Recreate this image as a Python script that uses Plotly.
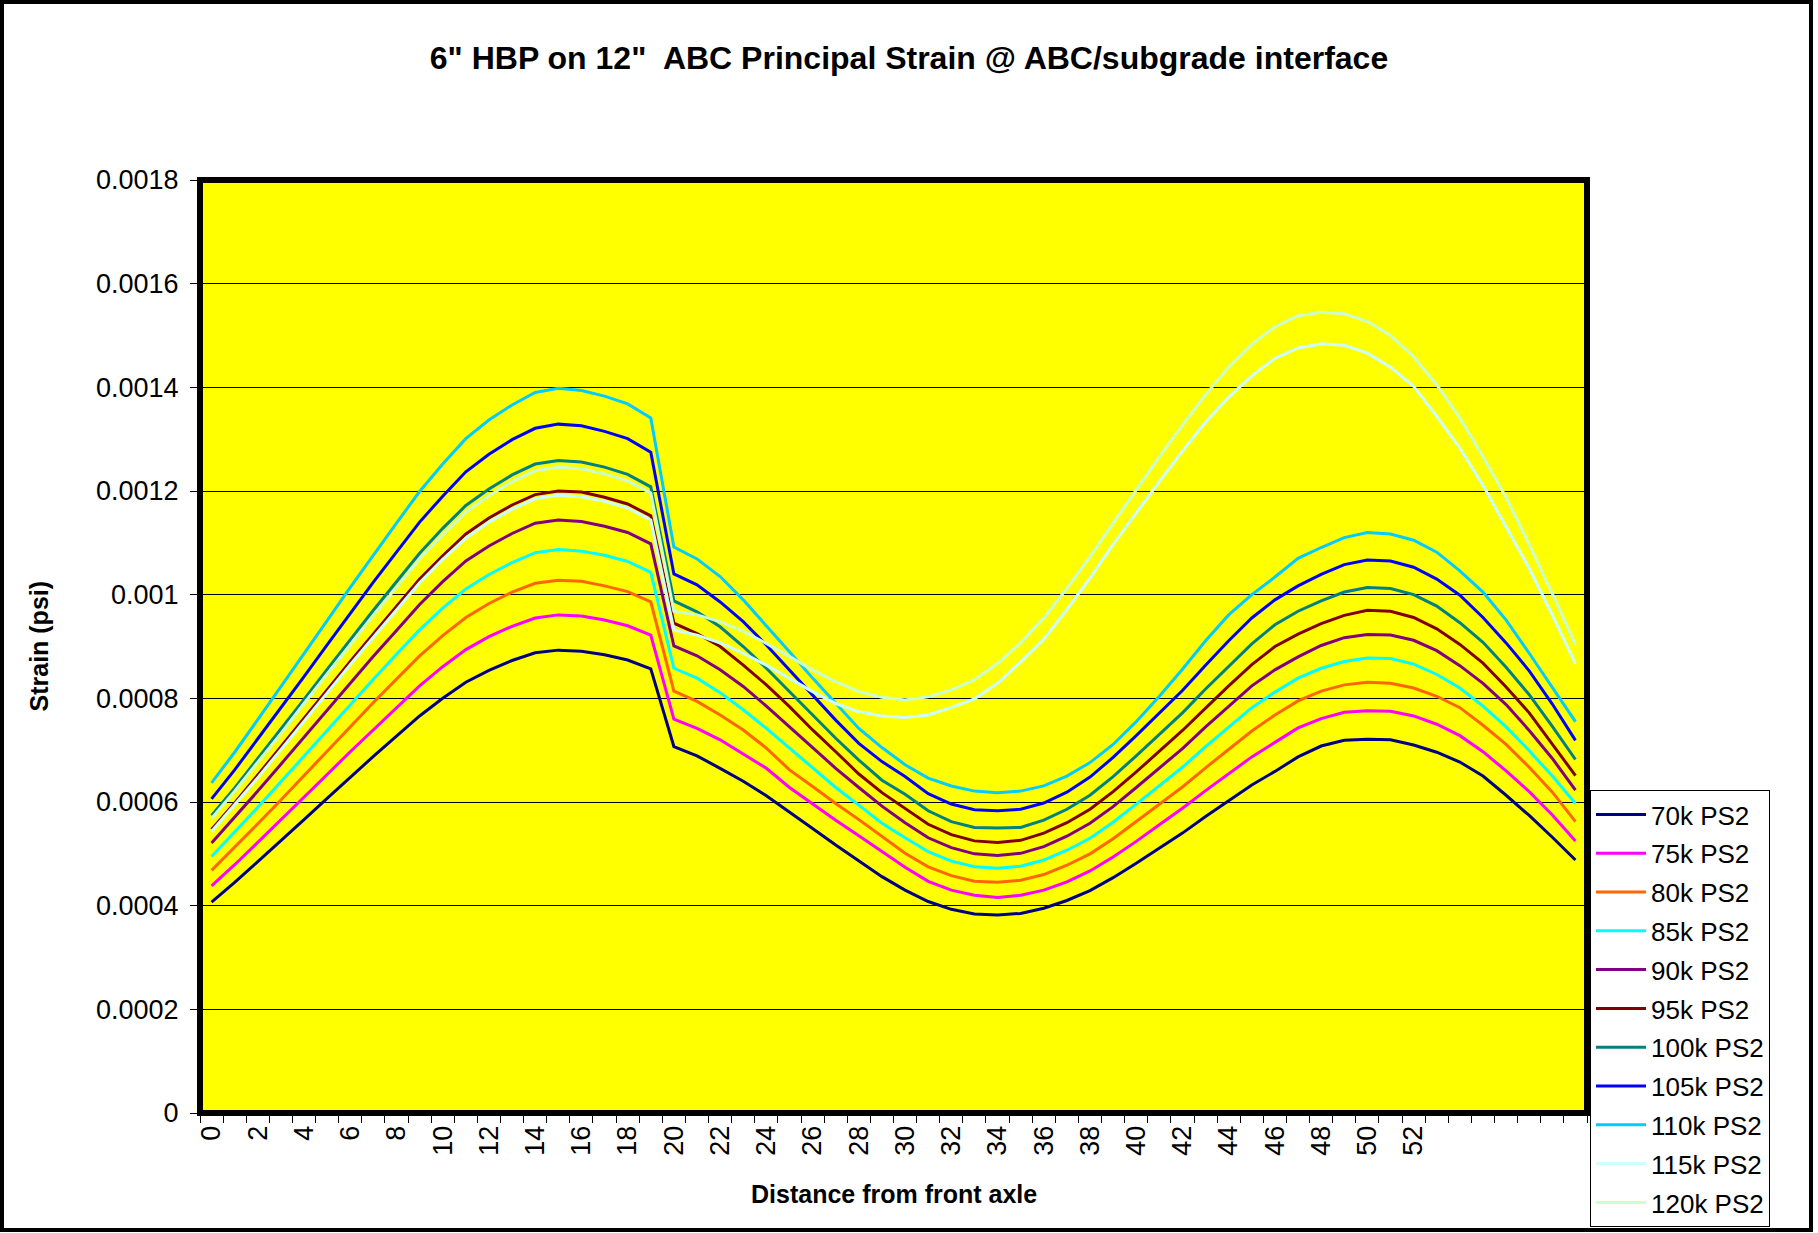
import plotly.graph_objects as go

# ---------------- data ----------------
distance = [0, 1, 2, 3, 4, 5, 6, 7, 8, 9, 10, 11, 12, 13, 14, 15, 16, 17, 18, 19,
            20, 21, 22, 23, 24, 25, 26, 27, 28, 29, 30, 31, 32, 33, 34, 35, 36, 37, 38, 39,
            40, 41, 42, 43, 44, 45, 46, 47, 48, 49, 50, 51, 52, 53, 54, 55, 56, 57, 58, 59]

x_tick_values = [0, 2, 4, 6, 8, 10, 12, 14, 16, 18, 20, 22, 24, 26, 28, 30, 32, 34, 36, 38,
                 40, 42, 44, 46, 48, 50, 52]
x_tick_labels = ["0", "2", "4", "6", "8", "10", "12", "14", "16", "18", "20", "22", "24", "26",
                 "28", "30", "32", "34", "36", "38", "40", "42", "44", "46", "48", "50", "52"]

y_tick_values = [0, 0.0002, 0.0004, 0.0006, 0.0008, 0.001, 0.0012, 0.0014, 0.0016, 0.0018]
y_tick_labels = ["0", "0.0002", "0.0004", "0.0006", "0.0008", "0.001", "0.0012", "0.0014",
                 "0.0016", "0.0018"]

s70k = [407e-6, 445e-6, 485e-6, 525e-6, 566e-6, 607e-6, 648e-6, 688e-6, 727e-6, 766e-6,
        800e-6, 831e-6, 854e-6, 873e-6, 888e-6, 893e-6, 891e-6, 884e-6, 874e-6, 857e-6,
        707e-6, 689e-6, 665e-6, 640e-6, 612e-6, 581e-6, 549e-6, 517e-6, 487e-6, 456e-6,
        430e-6, 408e-6, 393e-6, 384e-6, 382e-6, 385e-6, 395e-6, 410e-6, 429e-6, 454e-6,
        482e-6, 511e-6, 540e-6, 572e-6, 603e-6, 633e-6, 659e-6, 687e-6, 708e-6, 719e-6,
        721e-6, 720e-6, 710e-6, 696e-6, 677e-6, 650e-6, 613e-6, 574e-6, 532e-6, 488e-6]

s75k = [438e-6, 479e-6, 522e-6, 565e-6, 609e-6, 653e-6, 697e-6, 740e-6, 782e-6, 824e-6,
        861e-6, 894e-6, 919e-6, 939e-6, 955e-6, 961e-6, 959e-6, 951e-6, 940e-6, 922e-6,
        760e-6, 742e-6, 720e-6, 693e-6, 665e-6, 628e-6, 596e-6, 565e-6, 535e-6, 505e-6,
        474e-6, 447e-6, 430e-6, 420e-6, 416e-6, 420e-6, 430e-6, 446e-6, 467e-6, 494e-6,
        524e-6, 556e-6, 588e-6, 622e-6, 655e-6, 687e-6, 715e-6, 743e-6, 761e-6, 773e-6,
        776e-6, 775e-6, 766e-6, 750e-6, 728e-6, 697e-6, 660e-6, 620e-6, 575e-6, 525e-6]

s80k = [468e-6, 512e-6, 558e-6, 604e-6, 651e-6, 699e-6, 746e-6, 792e-6, 837e-6, 882e-6,
        921e-6, 956e-6, 983e-6, 1005e-6, 1022e-6, 1028e-6, 1026e-6, 1017e-6, 1006e-6, 986e-6,
        814e-6, 794e-6, 768e-6, 739e-6, 704e-6, 662e-6, 630e-6, 597e-6, 566e-6, 533e-6,
        501e-6, 475e-6, 458e-6, 447e-6, 445e-6, 449e-6, 460e-6, 478e-6, 500e-6, 529e-6,
        562e-6, 595e-6, 629e-6, 666e-6, 702e-6, 737e-6, 768e-6, 795e-6, 814e-6, 826e-6,
        831e-6, 829e-6, 820e-6, 804e-6, 782e-6, 748e-6, 711e-6, 667e-6, 619e-6, 562e-6]

s85k = [495e-6, 542e-6, 590e-6, 639e-6, 689e-6, 739e-6, 789e-6, 837e-6, 885e-6, 932e-6,
        974e-6, 1011e-6, 1039e-6, 1062e-6, 1081e-6, 1087e-6, 1084e-6, 1076e-6, 1064e-6, 1043e-6,
        858e-6, 839e-6, 811e-6, 778e-6, 742e-6, 704e-6, 665e-6, 628e-6, 594e-6, 559e-6,
        531e-6, 504e-6, 486e-6, 475e-6, 472e-6, 476e-6, 488e-6, 507e-6, 530e-6, 561e-6,
        596e-6, 632e-6, 667e-6, 707e-6, 745e-6, 782e-6, 812e-6, 839e-6, 858e-6, 871e-6,
        878e-6, 877e-6, 866e-6, 846e-6, 820e-6, 785e-6, 745e-6, 699e-6, 650e-6, 597e-6]

s90k = [521e-6, 570e-6, 621e-6, 673e-6, 725e-6, 778e-6, 830e-6, 881e-6, 931e-6, 981e-6,
        1025e-6, 1065e-6, 1094e-6, 1118e-6, 1138e-6, 1144e-6, 1141e-6, 1132e-6, 1120e-6, 1098e-6,
        901e-6, 882e-6, 855e-6, 823e-6, 785e-6, 745e-6, 704e-6, 665e-6, 628e-6, 592e-6,
        560e-6, 531e-6, 512e-6, 500e-6, 497e-6, 501e-6, 514e-6, 534e-6, 559e-6, 591e-6,
        628e-6, 665e-6, 703e-6, 745e-6, 785e-6, 824e-6, 855e-6, 880e-6, 902e-6, 917e-6,
        923e-6, 922e-6, 912e-6, 892e-6, 863e-6, 829e-6, 788e-6, 738e-6, 684e-6, 623e-6]

s95k = [547e-6, 598e-6, 652e-6, 706e-6, 761e-6, 816e-6, 871e-6, 925e-6, 977e-6, 1030e-6,
        1075e-6, 1117e-6, 1148e-6, 1173e-6, 1193e-6, 1200e-6, 1198e-6, 1188e-6, 1175e-6, 1152e-6,
        945e-6, 925e-6, 900e-6, 864e-6, 826e-6, 784e-6, 739e-6, 697e-6, 654e-6, 618e-6,
        587e-6, 557e-6, 537e-6, 525e-6, 522e-6, 526e-6, 540e-6, 560e-6, 586e-6, 620e-6,
        658e-6, 698e-6, 738e-6, 781e-6, 824e-6, 865e-6, 900e-6, 924e-6, 944e-6, 960e-6,
        970e-6, 968e-6, 956e-6, 934e-6, 904e-6, 868e-6, 822e-6, 772e-6, 711e-6, 651e-6]

s100k = [574e-6, 627e-6, 684e-6, 740e-6, 798e-6, 856e-6, 914e-6, 970e-6, 1025e-6, 1080e-6,
         1128e-6, 1172e-6, 1204e-6, 1231e-6, 1252e-6, 1259e-6, 1256e-6, 1246e-6, 1232e-6, 1208e-6,
         988e-6, 967e-6, 938e-6, 900e-6, 858e-6, 813e-6, 768e-6, 723e-6, 681e-6, 642e-6,
         615e-6, 583e-6, 562e-6, 551e-6, 550e-6, 551e-6, 565e-6, 586e-6, 613e-6, 649e-6,
         689e-6, 731e-6, 772e-6, 818e-6, 862e-6, 905e-6, 942e-6, 968e-6, 988e-6, 1005e-6,
         1014e-6, 1012e-6, 1000e-6, 978e-6, 946e-6, 908e-6, 860e-6, 807e-6, 746e-6, 682e-6]

s105k = [606e-6, 662e-6, 722e-6, 781e-6, 842e-6, 903e-6, 964e-6, 1024e-6, 1082e-6, 1140e-6,
         1190e-6, 1237e-6, 1271e-6, 1299e-6, 1321e-6, 1329e-6, 1326e-6, 1315e-6, 1301e-6, 1275e-6,
         1040e-6, 1019e-6, 986e-6, 948e-6, 903e-6, 855e-6, 806e-6, 758e-6, 713e-6, 678e-6,
         649e-6, 616e-6, 596e-6, 585e-6, 583e-6, 586e-6, 598e-6, 619e-6, 648e-6, 686e-6,
         728e-6, 772e-6, 815e-6, 864e-6, 911e-6, 955e-6, 990e-6, 1017e-6, 1039e-6, 1058e-6,
         1067e-6, 1065e-6, 1053e-6, 1030e-6, 999e-6, 956e-6, 907e-6, 853e-6, 789e-6, 719e-6]

s110k = [637e-6, 696e-6, 759e-6, 822e-6, 886e-6, 950e-6, 1014e-6, 1077e-6, 1138e-6, 1199e-6,
         1252e-6, 1301e-6, 1337e-6, 1366e-6, 1390e-6, 1398e-6, 1394e-6, 1383e-6, 1368e-6, 1341e-6,
         1092e-6, 1069e-6, 1035e-6, 990e-6, 941e-6, 890e-6, 839e-6, 790e-6, 742e-6, 705e-6,
         672e-6, 646e-6, 631e-6, 621e-6, 618e-6, 621e-6, 631e-6, 650e-6, 676e-6, 711e-6,
         755e-6, 804e-6, 856e-6, 911e-6, 961e-6, 1000e-6, 1034e-6, 1070e-6, 1091e-6, 1110e-6,
         1120e-6, 1117e-6, 1105e-6, 1082e-6, 1046e-6, 1005e-6, 951e-6, 887e-6, 822e-6, 755e-6]

s115k = [543e-6, 594e-6, 647e-6, 701e-6, 756e-6, 810e-6, 865e-6, 918e-6, 971e-6, 1023e-6,
         1068e-6, 1109e-6, 1140e-6, 1165e-6, 1185e-6, 1192e-6, 1189e-6, 1180e-6, 1167e-6, 1144e-6,
         932e-6, 922e-6, 907e-6, 887e-6, 864e-6, 839e-6, 813e-6, 790e-6, 774e-6, 766e-6,
         763e-6, 768e-6, 782e-6, 799e-6, 829e-6, 870e-6, 914e-6, 971e-6, 1032e-6, 1097e-6,
         1158e-6, 1218e-6, 1277e-6, 1333e-6, 1381e-6, 1422e-6, 1456e-6, 1476e-6, 1484e-6, 1481e-6,
         1466e-6, 1439e-6, 1402e-6, 1344e-6, 1283e-6, 1211e-6, 1131e-6, 1051e-6, 961e-6, 867e-6]

s120k = [568e-6, 621e-6, 677e-6, 732e-6, 790e-6, 847e-6, 904e-6, 960e-6, 1014e-6, 1069e-6,
         1116e-6, 1159e-6, 1191e-6, 1218e-6, 1239e-6, 1246e-6, 1243e-6, 1233e-6, 1219e-6, 1196e-6,
         968e-6, 961e-6, 948e-6, 929e-6, 906e-6, 880e-6, 855e-6, 832e-6, 813e-6, 802e-6,
         797e-6, 803e-6, 816e-6, 836e-6, 867e-6, 907e-6, 955e-6, 1012e-6, 1073e-6, 1138e-6,
         1202e-6, 1266e-6, 1327e-6, 1386e-6, 1439e-6, 1483e-6, 1517e-6, 1538e-6, 1545e-6, 1542e-6,
         1527e-6, 1500e-6, 1459e-6, 1405e-6, 1341e-6, 1266e-6, 1188e-6, 1097e-6, 1002e-6, 904e-6]

series_names = ["70k PS2", "75k PS2", "80k PS2", "85k PS2", "90k PS2", "95k PS2",
                "100k PS2", "105k PS2", "110k PS2", "115k PS2", "120k PS2"]
series_values = [s70k, s75k, s80k, s85k, s90k, s95k, s100k, s105k, s110k, s115k, s120k]
series_colors = ["#000080", "#FF00FF", "#FF6600", "#00FFFF", "#800080", "#800000",
                 "#008080", "#0000FF", "#00CCFF", "#CCFFFF", "#CCFFCC"]

# ---------------- figure ----------------
W, H = 1818, 1233
L, R, T, B = 200, 1587, 180, 1113     # plot area in pixels
pw, ph = R - L, B - T

def px(x):
    return (x - L) / pw

def py(y):
    return (B - y) / ph

FONT = "Arial, Liberation Sans, Helvetica, sans-serif"
TICK_SIZE = 27

fig = go.Figure()
for name, vals, col in zip(series_names, series_values, series_colors):
    fig.add_trace(go.Scatter(x=distance, y=vals, mode="lines", name=name, legendgroup=name,
                             line=dict(color=col, width=3)))

fig.update_layout(
    width=W, height=H,
    margin=dict(l=L, r=W - R, t=T, b=H - B, pad=0, autoexpand=False),
    paper_bgcolor="white",
    plot_bgcolor="#FFFF00",
    font=dict(family=FONT, size=25, color="black"),
    title=dict(text='6" HBP on 12"\u00a0 ABC Principal Strain @ ABC/subgrade interface',
               font=dict(family=FONT, size=32, color="black", weight="bold"),
               x=0.5, xref="container", xanchor="center",
               y=1 - 58 / H, yref="container", yanchor="middle"),
    showlegend=True,
    legend=dict(x=px(1590), y=py(1227), xanchor="left", yanchor="bottom",
                bgcolor="white", bordercolor="black", borderwidth=1,
                font=dict(family=FONT, size=26, color="black"),
                tracegroupgap=2, itemwidth=50, traceorder="grouped"),
    xaxis=dict(range=[-0.5, 59.5], tickmode="array", tickvals=x_tick_values,
               ticktext=x_tick_labels, tickangle=-90, ticks="outside", ticklen=1,
               tickcolor="rgba(0,0,0,0)", showgrid=False, zeroline=False, showline=False,
               automargin=False,
               tickfont=dict(family=FONT, size=TICK_SIZE, color="black"),
               minor=dict(tickmode="array", tickvals=[i - 0.5 for i in range(61)],
                          ticks="outside", ticklen=9, tickwidth=1, tickcolor="black",
                          showgrid=False)),
    yaxis=dict(range=[0, 0.0018], tickmode="array", tickvals=y_tick_values,
               ticktext=y_tick_labels, ticks="outside", ticklen=9, tickwidth=1,
               tickcolor="black", showgrid=True, gridcolor="black", gridwidth=1,
               zeroline=False, showline=False, automargin=False, ticklabelstandoff=6,
               tickfont=dict(family=FONT, size=TICK_SIZE, color="black")),
    shapes=[
        dict(type="rect", xref="paper", yref="paper", x0=0, x1=1, y0=0, y1=1,
             line=dict(color="black", width=6), layer="above"),
        dict(type="rect", xref="paper", yref="paper", x0=px(2), x1=px(1811),
             y0=py(1230), y1=py(2), line=dict(color="black", width=4), layer="above"),
    ],
    annotations=[
        dict(text="Strain (psi)", xref="paper", yref="paper", x=px(38), y=0.5,
             textangle=-90, showarrow=False, xanchor="center", yanchor="middle",
             font=dict(family=FONT, size=25, color="black", weight="bold")),
        dict(text="Distance from front axle", xref="paper", yref="paper", x=0.5, y=py(1194),
             showarrow=False, xanchor="center", yanchor="middle",
             font=dict(family=FONT, size=25, color="black", weight="bold")),
    ],
)

fig.write_html("out.html")
